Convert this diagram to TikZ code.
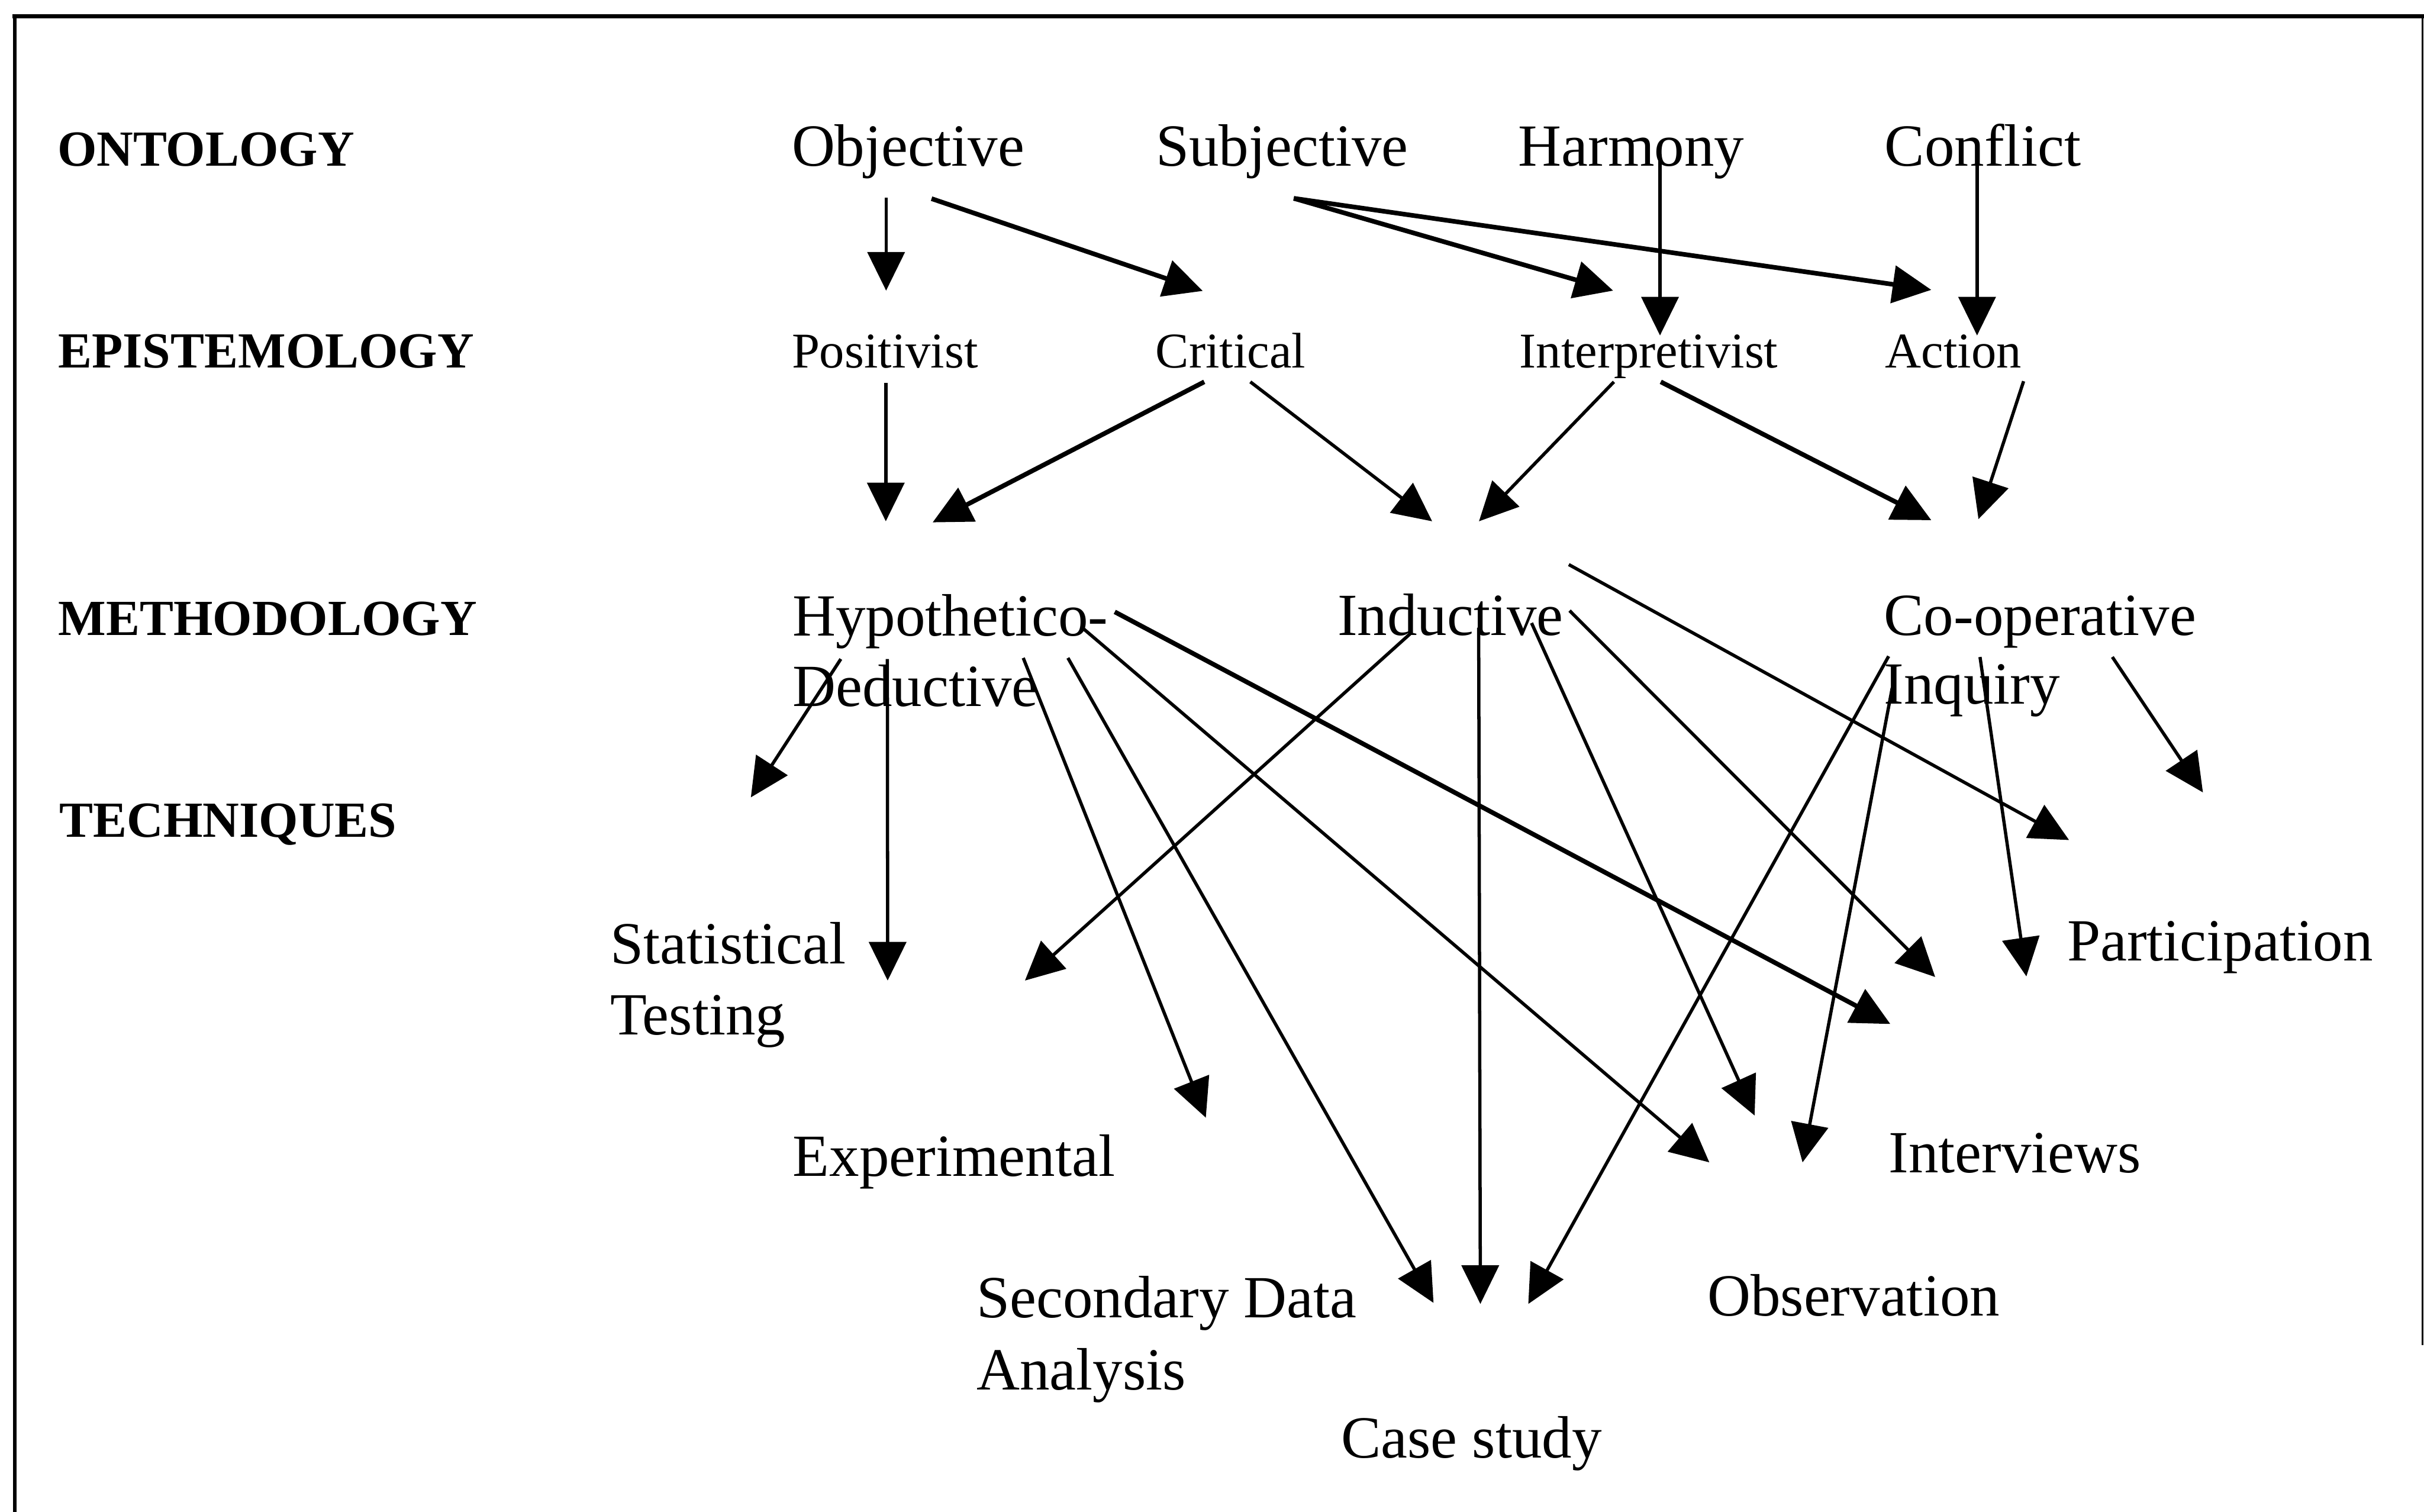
\documentclass[tikz,border=0pt]{standalone}
\usepackage{fontspec}
\setmainfont{Liberation Serif}
\usetikzlibrary{arrows.meta}
\begin{document}
\begin{tikzpicture}[x=0.01cm,y=-0.01cm,
  lvl/.style={anchor=base west,inner sep=0pt,font=\fontsize{9.3}{11}\selectfont\bfseries},
  big/.style={anchor=base west,inner sep=0pt,font=\fontsize{11}{13}\selectfont},
  small/.style={anchor=base west,inner sep=0pt,font=\fontsize{9.2}{11}\selectfont},
  link/.style={line width=0.6pt,-{Triangle[length=0.25cm,width=0.24cm]}},
  heavy/.style={link,line width=0.85pt}]
\useasboundingbox (0,0) rectangle (1568,978);

% open frame: heavy top rule, left rule, hairline on the right
\draw[line width=0.8pt] (8,10.5) -- (1568,10.5);
\draw[line width=0.65pt] (9.4,10) -- (9.4,978);
\draw[line width=0.3pt] (1567,10) -- (1567,870);

% level captions
\node[lvl] (ont) at (36.5,107.3) {ONTOLOGY};
\node[lvl] (epi) at (37,238) {EPISTEMOLOGY};
\node[lvl] (met) at (37,411) {METHODOLOGY};
\node[lvl] (tec) at (37.8,541.4) {TECHNIQUES};

% ontology
\node[big] (objective)  at (511.5,107.3) {Objective};
\node[big] (subjective) at (747,107.3)   {Subjective};
\node[big] (harmony)    at (981.5,107.3) {Harmony};
\node[big] (conflict)   at (1218.5,107.3){Conflict};

% epistemology
\node[small] (positivist)     at (511.5,238) {Positivist};
\node[small] (critical)       at (746.8,238) {Critical};
\node[small] (interpretivist) at (982.3,238) {Interpretivist};
\node[small] (action)         at (1218.8,238){Action};

% methodology
\node[big] (hypo1) at (512,411.3) {Hypothetico-};
\node[big] (hypo2) at (512,456.8) {Deductive};
\node[big] (inductive) at (864.5,411) {Inductive};
\node[big] (coop1) at (1218,410.8) {Co-operative};
\node[big] (coop2) at (1218,455.5) {Inquiry};

% techniques
\node[big] (stat1) at (394,623.4) {Statistical};
\node[big] (stat2) at (394,669.4) {Testing};
\node[big] (participation) at (1336.5,621.5) {Participation};
\node[big] (experimental) at (512.2,761) {Experimental};
\node[big] (interviews) at (1221,758.7) {Interviews};
\node[big] (sda1) at (631,852.4) {Secondary Data};
\node[big] (sda2) at (631,899) {Analysis};
\node[big] (observation) at (1103.8,851) {Observation};
\node[big] (casestudy) at (866.8,943) {Case study};

% connector ends: ontology -> epistemology
\coordinate (obj-a) at (573.2,127.8);  \coordinate (pos-in) at (573.2,188);
\coordinate (obj-b) at (602.6,128.5);  \coordinate (cri-in) at (778,188.2);
\coordinate (sub-a) at (836.9,128.3);  \coordinate (int-in) at (1043.5,188);
                                       \coordinate (act-in) at (1249.3,187.5);
\coordinate (har-a) at (1073.8,100);   \coordinate (int-in2) at (1073.8,217);
\coordinate (con-a) at (1278.9,101);   \coordinate (act-in2) at (1278.9,217);

% epistemology -> methodology
\coordinate (pos-a) at (573,247.6);   \coordinate (hyp-in) at (573,337.2);
\coordinate (cri-a) at (779,247);     \coordinate (hyp-in2) at (603.3,337.9);
\coordinate (cri-b) at (808.8,247);   \coordinate (ind-in) at (926.4,337.2);
\coordinate (int-a) at (1044,247);    \coordinate (ind-in2) at (956.7,337.2);
\coordinate (int-b) at (1074.3,247);  \coordinate (coo-in) at (1249.3,336.5);
\coordinate (act-a) at (1309,246.6);  \coordinate (coo-in2) at (1279.8,335.8);

% methodology -> techniques
\coordinate (hyp-a) at (543.9,426.3); \coordinate (free-l) at (485.7,515.8);
\coordinate (hyp-b) at (574,426.3);   \coordinate (sta-in) at (574.2,634.3);
\coordinate (hyp-c) at (661.9,425.6); \coordinate (exp-in) at (780,723);
\coordinate (hyp-d) at (690.8,425.6); \coordinate (cas-in1) at (927.3,842.8);
\coordinate (hyp-e) at (700,406);     \coordinate (obs-in1) at (1105.7,751.9);
\coordinate (hyp-f) at (721.1,395.8); \coordinate (itv-in1) at (1222.8,662.4);
\coordinate (ind-a) at (912.5,409.7); \coordinate (sta-in2) at (663,634.3);
\coordinate (ind-b) at (956.5,406);   \coordinate (cas-in2) at (957.6,843.5);
\coordinate (ind-c) at (990.7,403);   \coordinate (obs-in2) at (1135,721.6);
\coordinate (ind-d) at (1015.3,395);  \coordinate (itv-in2) at (1251.8,632);
\coordinate (ind-e) at (1014.8,365.2);\coordinate (par-in1) at (1338.4,543.4);
\coordinate (coo-a) at (1221.7,424.5);\coordinate (cas-in3) at (988.6,843.5);
\coordinate (coo-b) at (1224,445);    \coordinate (obs-in3) at (1166,751.9);
\coordinate (coo-c) at (1280.8,425);  \coordinate (par-in2) at (1310.8,631.6);
\coordinate (coo-d) at (1366.4,425);  \coordinate (free-r) at (1425,512.6);

% arrows
\draw[link]  (obj-a) -- (pos-in);
\draw[heavy] (obj-b) -- (cri-in);
\draw[heavy] (sub-a) -- (int-in);
\draw[heavy] (sub-a) -- (act-in);
\draw[link]  (har-a) -- (int-in2);
\draw[link]  (con-a) -- (act-in2);

\draw[link]  (pos-a) -- (hyp-in);
\draw[heavy] (cri-a) -- (hyp-in2);
\draw[link]  (cri-b) -- (ind-in);
\draw[link]  (int-a) -- (ind-in2);
\draw[heavy] (int-b) -- (coo-in);
\draw[link]  (act-a) -- (coo-in2);

\draw[link]  (hyp-a) -- (free-l);
\draw[link]  (hyp-b) -- (sta-in);
\draw[link]  (hyp-c) -- (exp-in);
\draw[link]  (hyp-d) -- (cas-in1);
\draw[link]  (hyp-e) -- (obs-in1);
\draw[heavy] (hyp-f) -- (itv-in1);
\draw[link]  (ind-a) -- (sta-in2);
\draw[link]  (ind-b) -- (cas-in2);
\draw[link]  (ind-c) -- (obs-in2);
\draw[link]  (ind-d) -- (itv-in2);
\draw[link]  (ind-e) -- (par-in1);
\draw[link]  (coo-a) -- (cas-in3);
\draw[link]  (coo-b) -- (obs-in3);
\draw[link]  (coo-c) -- (par-in2);
\draw[link]  (coo-d) -- (free-r);
\end{tikzpicture}
\end{document}
